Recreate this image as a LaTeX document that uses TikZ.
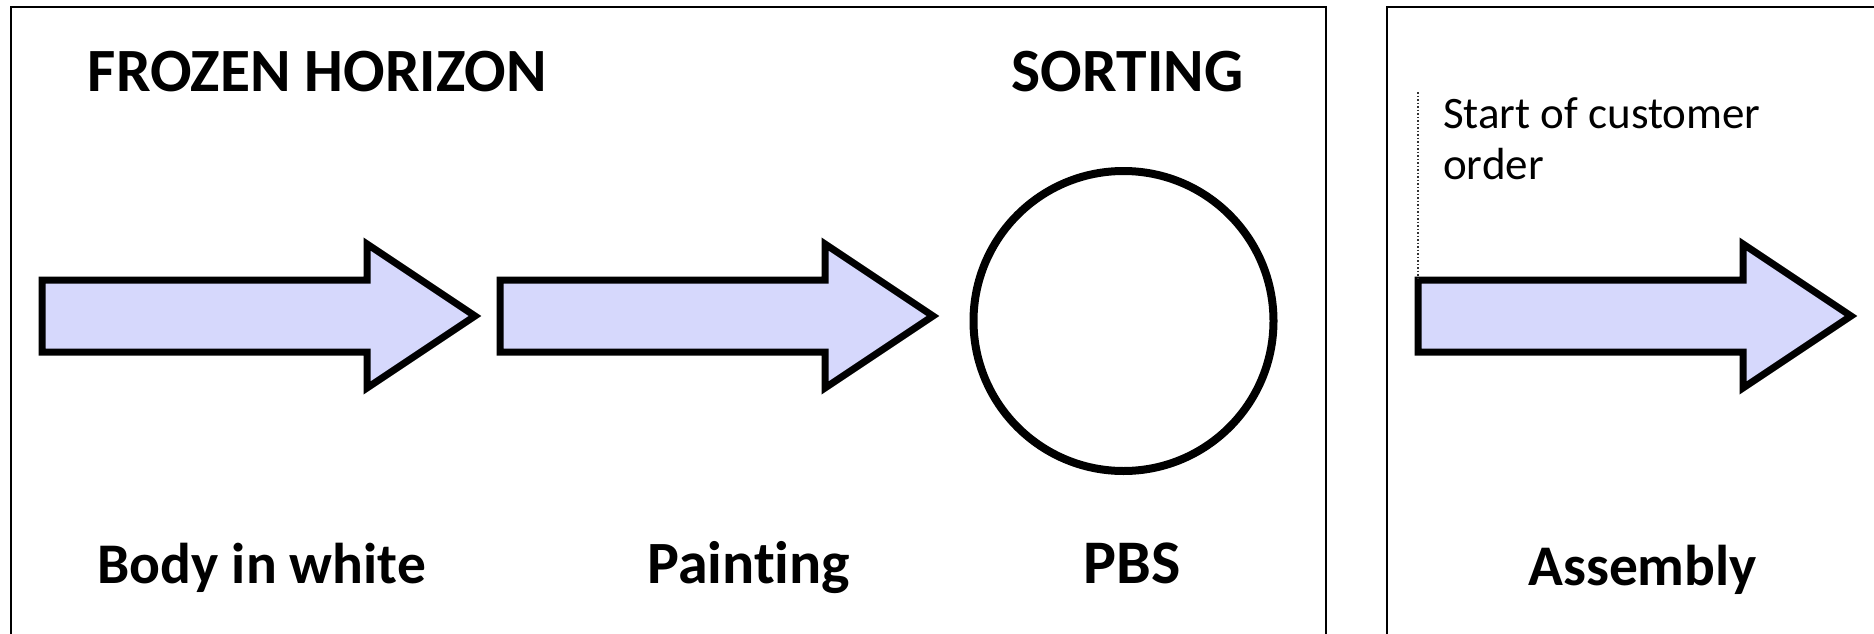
\documentclass[tikz,border=0pt]{standalone}
\usepackage{fontspec}
\setmainfont{Carlito}[Ligatures=NoCommon]
\definecolor{arrowfill}{RGB}{214,216,252}
\begin{document}
\begin{tikzpicture}[x=1pt,y=-1pt,
  frame/.style={draw=black,line width=2pt},
  bigarrowstyle/.style={draw=black,fill=arrowfill,line width=7pt,line join=miter},
  titletext/.style={font=\fontsize{61.5}{70}\selectfont\bfseries,anchor=base,inner sep=0pt},
  steplabel/.style={font=\fontsize{57.5}{67}\selectfont\bfseries,anchor=base,inner sep=0pt},
  notetext/.style={font=\fontsize{45}{51}\selectfont,align=left,anchor=north west,inner sep=0pt},
  buffer/.style={circle,draw=black,line width=8pt,minimum size=300pt,inner sep=0pt},
  marker/.style={draw=black!80,line width=1.5pt,dotted},
  bigarrow/.pic={
    \draw[bigarrowstyle] (0,-36) coordinate (-tl) -- (325,-36) -- (325,-72) -- (433,0) coordinate (-tip)
      -- (325,72) -- (325,36) -- (0,36) -- cycle;
  }]
\useasboundingbox (0,0) rectangle (1874,634);
\clip (0,0) rectangle (1874,634);
% frames
\draw[frame] (11,650) -- (11,7) -- (1326,7) -- (1326,650);
\draw[frame] (1387,650) -- (1387,7) -- (1890,7);
% headings
\node[titletext] (frozen) at (317.3,91.5) {FROZEN HORIZON};
\node[titletext] (sorting) at (1127.5,91.5) {SORTING};
% arrows
\pic (biw) at (42,316) {bigarrow};
\pic (paint) at (500,316) {bigarrow};
\pic (asm) at (1418,316) {bigarrow};
% buffer
\node[buffer] (pbs) at (1123.5,321) {};
% labels
\node[steplabel] (lbiw) at (261.7,583.3) {Body in white};
\node[steplabel,font=\fontsize{60}{70}\selectfont\bfseries] (lpaint) at (748.7,583.3) {Painting};
\node[steplabel,font=\fontsize{62}{70}\selectfont\bfseries] (lpbs) at (1132,583.3) {PBS};
\node[steplabel] (lasm) at (1642.6,585) {Assembly};
% customer order
\node[notetext] (order) at (1443,97) {Start of customer\\order};
\coordinate (markertop) at (1418,92);
\draw[marker] (markertop) -- (asm-tl);
\end{tikzpicture}
\end{document}
